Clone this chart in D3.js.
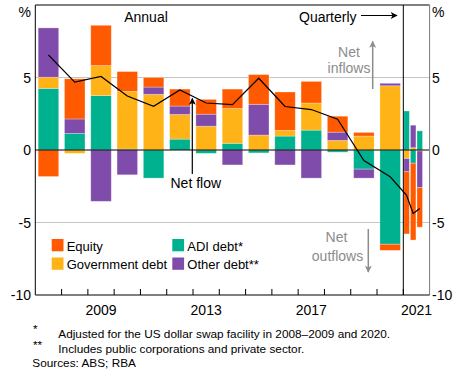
<!DOCTYPE html>
<html>
<head>
<meta charset="utf-8">
<script src="https://cdn.jsdelivr.net/npm/d3@7"></script>
<style>
  html, body { margin: 0; padding: 0; background: #fff; }
  svg { display: block; font-family: Arial, "Liberation Sans", sans-serif; }
</style>
</head>
<body>
<svg id="chart" width="459" height="379"></svg>
<script>
// ---------------- data ----------------
const years = [2007, 2008, 2009, 2010, 2011, 2012, 2013, 2014, 2015, 2016, 2017, 2018, 2019, 2020];
const annualADI    = [4.25, 1.14, 3.75, 0.06, -1.94, 0.75, -0.23, 0.46, -0.20, 0.96, 1.37, -0.15, -1.32, -6.50];
const annualGov    = [0.77, -0.23, 2.07, 3.98, 3.84, 1.70, 1.64, 2.40, 1.03, 0.39, 1.87, 0.66, 0.96, 4.43];
const annualOther  = [3.40, 1.00, -3.54, -1.71, 0.50, 0.58, 0.83, -1.03, 2.12, -1.03, -1.94, 0.57, -0.62, 0.17];
const annualEquity = [-1.83, 2.77, 2.78, 1.37, 0.66, 1.17, 1.02, 1.34, 2.05, 2.65, 1.49, 1.10, 0.25, -0.42];
const annualNet    = [6.55, 4.68, 5.07, 3.72, 3.01, 4.14, 3.24, 3.13, 4.95, 3.00, 2.79, 2.12, -0.73, -1.85];

const quarters = ["Q1", "Q2", "Q3", "Q4"];
const qADI    = [2.69, -0.91, 1.32];
const qGov    = [-0.59, 0.16, -0.07];
const qOther  = [-0.91, 1.55, -2.51];
const qEquity = [-4.29, -5.30, -2.74];
const qNet    = [-3.12, -4.38, -4.04];

const seriesKeys   = ["ADI", "Gov", "Other", "Equity"];
const seriesColors = { Equity: "#ff5a00", Gov: "#ffb317", ADI: "#00b18f", Other: "#7f4cab" };
const legendItems = [
  { key: "Equity", label: "Equity" },
  { key: "Gov", label: "Government debt" },
  { key: "ADI", label: "ADI debt*" },
  { key: "Other", label: "Other debt**" }
];
const yTicks = [-10, -5, 0, 5];
const xLabelYears = [2009, 2013, 2017];
const quarterlyLabel = "2021";

// ---------------- layout ----------------
const svg = d3.select("#chart");
const L = 35.3, R = 429.6, T = 5, B = 295;
const split = L + (R - L) * 14 / 15;

const x = d3.scaleBand().domain(years).range([L, split]).paddingInner(0.22).paddingOuter(0.11);
const xq = d3.scaleBand().domain(quarters).range([split, R]).paddingInner(0.16).paddingOuter(0.08);
const y = d3.scaleLinear().domain([-10, 10]).range([B, T]);

const annualRows = years.map((yr, i) => ({ key: yr, ADI: annualADI[i], Gov: annualGov[i], Other: annualOther[i], Equity: annualEquity[i] }));
const quarterRows = qADI.map((v, i) => ({ key: quarters[i], ADI: qADI[i], Gov: qGov[i], Other: qOther[i], Equity: qEquity[i] }));

const stack = d3.stack().keys(seriesKeys).offset(d3.stackOffsetDiverging);

// grid lines
const g = svg.append("g");
g.selectAll(".grid").data([5, -5]).join("line")
  .attr("x1", L).attr("x2", R).attr("y1", d => y(d)).attr("y2", d => y(d))
  .attr("stroke", "#c4c4c4").attr("stroke-width", 1);

function drawBars(rows, scale) {
  const layers = stack(rows);
  g.append("g").selectAll("g").data(layers).join("g")
    .attr("fill", d => seriesColors[d.key])
    .selectAll("rect").data(d => d).join("rect")
    .attr("x", d => scale(d.data.key))
    .attr("width", scale.bandwidth())
    .attr("y", d => y(Math.max(d[0], d[1])))
    .attr("height", d => Math.abs(y(d[0]) - y(d[1])))
    .attr("stroke", "rgba(255,255,255,0.35)").attr("stroke-width", 0.8);
}
drawBars(annualRows, x);
drawBars(quarterRows, xq);

// zero line
g.append("line").attr("x1", L).attr("x2", R).attr("y1", y(0)).attr("y2", y(0))
  .attr("stroke", "#000").attr("stroke-width", 1);

// net flow line
const linePts = years.map((yr, i) => [x(yr) + x.bandwidth() / 2, y(annualNet[i])])
  .concat(qNet.map((v, i) => [xq(quarters[i]) + xq.bandwidth() / 2, y(v)]));
g.append("path").attr("d", d3.line()(linePts))
  .attr("fill", "none").attr("stroke", "#000").attr("stroke-width", 1.2);

// frame / axes
g.append("line").attr("x1", L).attr("x2", L).attr("y1", T).attr("y2", B).attr("stroke", "#000");
g.append("line").attr("x1", L).attr("x2", R).attr("y1", T).attr("y2", T).attr("stroke", "#000");
g.append("line").attr("x1", split).attr("x2", split).attr("y1", T).attr("y2", B).attr("stroke", "#000");
g.append("line").attr("x1", R).attr("x2", R).attr("y1", T).attr("y2", B).attr("stroke", "#7a7a7a");
g.append("line").attr("x1", L).attr("x2", R).attr("y1", B).attr("y2", B).attr("stroke", "#000");

// x ticks at band boundaries
const step = x.step();
const tickXs = years.slice(1).map(yr => x(yr) - step * x.paddingInner() / 2).concat([split]);
g.selectAll(".xt").data(tickXs).join("line")
  .attr("x1", d => d).attr("x2", d => d).attr("y1", B).attr("y2", B - 6)
  .attr("stroke", "#000");

// x labels
const xl = g.append("g").attr("font-size", 14).attr("fill", "#000").attr("text-anchor", "middle");
xLabelYears.forEach(yr => {
  xl.append("text").attr("x", x(yr) + x.bandwidth() / 2).attr("y", 315).text(yr);
});
xl.append("text").attr("x", (split + R) / 2).attr("y", 315).text(quarterlyLabel);

// y labels
const fmt = d => d < 0 ? "-" + Math.abs(d) : String(d);
const yl = g.append("g").attr("font-size", 14).attr("fill", "#000");
yTicks.forEach(t => {
  yl.append("text").attr("x", 31).attr("y", y(t)).attr("dy", "0.36em").attr("text-anchor", "end").text(fmt(t));
  yl.append("text").attr("x", 432).attr("y", y(t)).attr("dy", "0.36em").attr("text-anchor", "start").text(fmt(t));
});
yl.append("text").attr("x", 31).attr("y", 17).attr("text-anchor", "end").text("%");
yl.append("text").attr("x", 432).attr("y", 17).attr("text-anchor", "start").text("%");

// defs: arrowheads
const defs = svg.append("defs");
function marker(id, color) {
  defs.append("marker").attr("id", id).attr("viewBox", "0 0 10 10").attr("refX", 9).attr("refY", 5)
    .attr("markerWidth", 10).attr("markerHeight", 7).attr("markerUnits", "userSpaceOnUse").attr("orient", "auto")
    .append("path").attr("d", "M0,0 L10,5 L0,10 L2.5,5 Z").attr("fill", color);
}
marker("arrBlack", "#000");
marker("arrGrey", "#8c8c8c");

// annotations
const ann = g.append("g").attr("font-size", 14);
ann.append("text").attr("x", 146).attr("y", 22).attr("text-anchor", "middle").text("Annual");
ann.append("text").attr("x", 299).attr("y", 22).text("Quarterly");
ann.append("line").attr("x1", 361).attr("x2", 397).attr("y1", 15.5).attr("y2", 15.5)
  .attr("stroke", "#000").attr("stroke-width", 1).attr("marker-end", "url(#arrBlack)");

ann.append("text").attr("x", 170.5).attr("y", 188).text("Net flow");
ann.append("line").attr("x1", 192.3).attr("x2", 192.3).attr("y1", 174).attr("y2", 98.5)
  .attr("stroke", "#000").attr("stroke-width", 1.2).attr("marker-end", "url(#arrBlack)");

const grey = "#8c8c8c";
ann.append("text").attr("x", 349).attr("y", 56.5).attr("text-anchor", "middle").attr("fill", grey).text("Net");
ann.append("text").attr("x", 349).attr("y", 73).attr("text-anchor", "middle").attr("fill", grey).text("inflows");
ann.append("line").attr("x1", 372.7).attr("x2", 372.7).attr("y1", 89).attr("y2", 41.5)
  .attr("stroke", grey).attr("stroke-width", 1.5).attr("marker-end", "url(#arrGrey)");

ann.append("text").attr("x", 336.5).attr("y", 241.5).attr("text-anchor", "middle").attr("fill", grey).text("Net");
ann.append("text").attr("x", 337.5).attr("y", 260.5).attr("text-anchor", "middle").attr("fill", grey).text("outflows");
ann.append("line").attr("x1", 368.3).attr("x2", 368.3).attr("y1", 229).attr("y2", 272)
  .attr("stroke", grey).attr("stroke-width", 1.5).attr("marker-end", "url(#arrGrey)");

// legend
const lg = g.append("g").attr("font-size", 13);
const legPos = [[51.7, 239], [51.7, 257.5], [172.3, 239], [172.3, 257.5]];
legendItems.forEach((it, i) => {
  const [lx, ly] = legPos[i];
  lg.append("rect").attr("x", lx).attr("y", ly).attr("width", 11.8).attr("height", 12.3).attr("fill", seriesColors[it.key]);
  lg.append("text").attr("x", lx + 15).attr("y", ly + 11.5).text(it.label);
});

// footnotes
const fn = g.append("g").attr("font-size", 11.8).attr("fill", "#000");
fn.append("text").attr("x", 33).attr("y", 333).text("*");
fn.append("text").attr("x", 58.3).attr("y", 338).text("Adjusted for the US dollar swap facility in  2008\u20132009 and 2020.");
fn.append("text").attr("x", 33).attr("y", 349).text("**");
fn.append("text").attr("x", 58.3).attr("y", 353).text("Includes public corporations and private sector.");
fn.append("text").attr("x", 32.3).attr("y", 367).text("Sources: ABS; RBA");
</script>
</body>
</html>
